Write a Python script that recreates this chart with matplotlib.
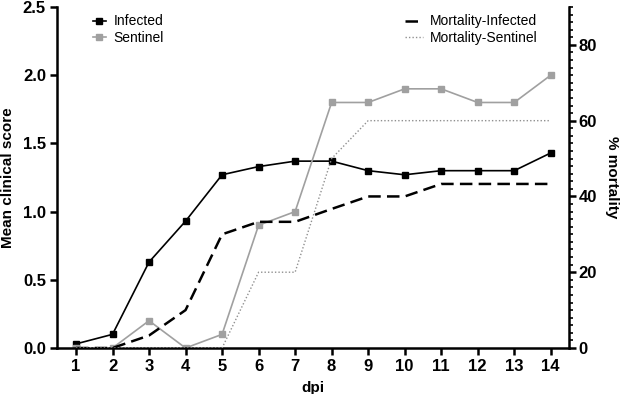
import matplotlib.pyplot as plt
from matplotlib.ticker import MultipleLocator

plt.rcParams['font.family'] = ['Liberation Sans', 'DejaVu Sans']

dpi_days = list(range(1, 15))
infected = [0.03, 0.10, 0.63, 0.93, 1.27, 1.33, 1.37, 1.37, 1.30, 1.27, 1.30, 1.30, 1.30, 1.43]
sentinel = [0.0, 0.0, 0.20, 0.0, 0.10, 0.90, 1.00, 1.80, 1.80, 1.90, 1.90, 1.80, 1.80, 2.00]
mort_infected = [0, 0, 3.3, 10, 30, 33.3, 33.3, 36.7, 40, 40, 43.3, 43.3, 43.3, 43.3]
mort_sentinel = [0, 0, 0, 0, 0, 20, 20, 50, 60, 60, 60, 60, 60, 60]

fig = plt.figure(figsize=(6.25, 3.94), dpi=100)
ax = fig.add_axes([57 / 625, 1 - 348 / 394, (569 - 57) / 625, (348 - 7) / 394])
ax2 = ax.twinx()

grey = "#a0a0a0"
l1, = ax.plot(dpi_days, infected, color="black", lw=1.2, marker="s", ms=4.5, label="Infected")
l2, = ax.plot(dpi_days, sentinel, color=grey, lw=1.2, marker="s", ms=4.5, label="Sentinel")
l3, = ax2.plot(dpi_days, mort_infected, color="black", lw=1.8, ls=(0, (5, 2.5)), label="Mortality-Infected")
l4, = ax2.plot(dpi_days, mort_sentinel, color="#909090", lw=1.0, ls=(0, (1, 1.5)), label="Mortality-Sentinel")

ax.set_xlim(0.48, 14.5)
ax.set_ylim(0, 2.5)
ax2.set_ylim(0, 90)
ax.set_xticks(dpi_days)
ax.yaxis.set_major_locator(MultipleLocator(0.5))
ax.yaxis.set_major_formatter(plt.FormatStrFormatter("%.1f"))
ax2.set_yticks([0, 20, 40, 60, 80])
ax2.yaxis.set_minor_locator(MultipleLocator(2))

for a in (ax, ax2):
    a.spines["top"].set_visible(False)
    for s in a.spines.values():
        s.set_linewidth(1.8)
ax.spines["right"].set_visible(False)
ax2.spines["left"].set_visible(False)
ax2.spines["bottom"].set_visible(False)

ax.tick_params(axis="both", width=1.8, length=5, labelsize=12, pad=3)
ax2.tick_params(axis="y", which="major", width=1.8, length=5, labelsize=12, pad=2)
ax2.tick_params(axis="y", which="minor", width=1.2, length=3)
for lab in ax.get_xticklabels() + ax.get_yticklabels() + ax2.get_yticklabels():
    lab.set_fontweight("bold")

ax.set_xlabel("dpi", fontsize=11, fontweight="bold", labelpad=5)
ax.set_ylabel("Mean clinical score", fontsize=11, fontweight="bold")
ax.yaxis.set_label_coords(-0.082, 0.5)
ax2.set_ylabel("% mortality", fontsize=11, fontweight="bold", rotation=270, labelpad=16)

ax.legend(handles=[l1, l2], loc="upper left", bbox_to_anchor=(0.045, 1.015),
          frameon=False, fontsize=10, handlelength=1.0, handletextpad=0.5,
          labelspacing=0.2)
ax2.legend(handles=[l3, l4], loc="upper left", bbox_to_anchor=(0.655, 1.015),
           frameon=False, fontsize=10, handlelength=1.3, handletextpad=0.5,
           labelspacing=0.2)

fig.savefig("out.png", dpi=100)
